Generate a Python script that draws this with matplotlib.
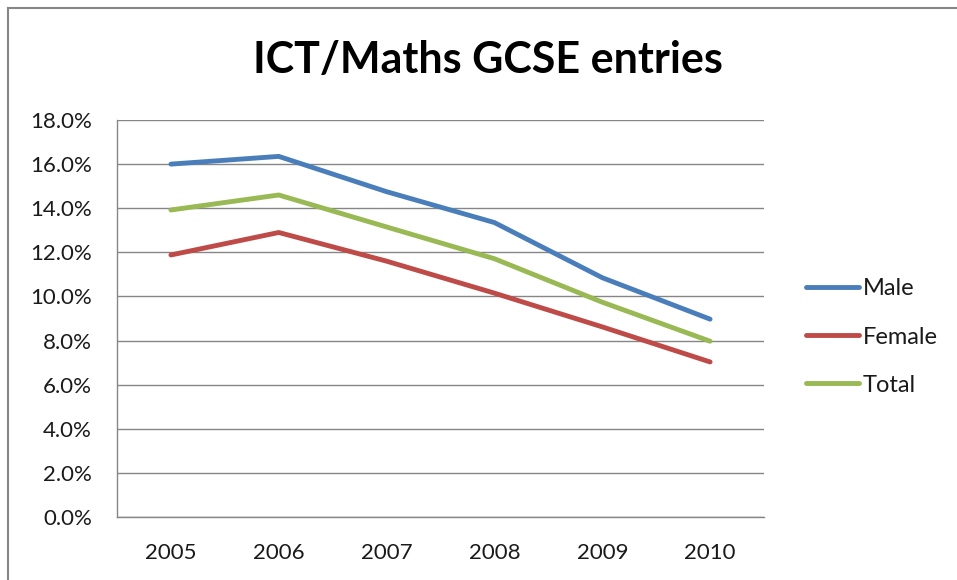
import matplotlib
matplotlib.use("Agg")
import matplotlib.pyplot as plt
from matplotlib.lines import Line2D

years = ["2005", "2006", "2007", "2008", "2009", "2010"]
male = [16.0, 16.35, 14.75, 13.35, 10.85, 8.97]
female = [11.88, 12.9, 11.6, 10.15, 8.62, 7.03]
total = [13.92, 14.6, 13.15, 11.71, 9.74, 7.97]

plt.rcParams['font.family'] = ['Lato', 'DejaVu Sans']

fig = plt.figure(figsize=(9.57, 5.8), dpi=100)
ax = fig.add_axes([117/957, 1 - 517/580, (764-117)/957, (517-120)/580])

x = list(range(len(years)))
ax.plot(x, male, color='#4A7EBB', lw=3.5, label='Male', solid_capstyle='round')
ax.plot(x, female, color='#BE4B48', lw=3.5, label='Female', solid_capstyle='round')
ax.plot(x, total, color='#98B954', lw=3.5, label='Total', solid_capstyle='round')

ax.set_xlim(-0.5, 5.5)
ax.set_ylim(0, 18)
ax.set_yticks(range(0, 19, 2))
ax.set_yticklabels([f"{v:.1f}%" for v in range(0, 19, 2)])
ax.set_xticks(x)
ax.set_xticklabels(years)
ax.tick_params(axis='both', length=0, labelsize=16, colors='#1a1a1a')
ax.tick_params(axis='y', pad=18)
ax.tick_params(axis='x', pad=19)
ax.grid(axis='y', color='#868686', lw=1)
ax.set_axisbelow(True)
for s in ['top', 'right']:
    ax.spines[s].set_visible(False)
for s in ['left', 'bottom']:
    ax.spines[s].set_color('#868686')
    ax.spines[s].set_linewidth(1)

fig.text(488/957, 1 - 60/580, "ICT/Maths GCSE entries", ha='center', va='center',
         fontsize=31, fontweight='bold', color='black')

leg = fig.legend(loc='center left', bbox_to_anchor=(785/957, 1 - 337/580), frameon=False,
                 fontsize=17, handlelength=2.25, handletextpad=0.15, labelspacing=1.15)
for t in leg.get_texts():
    t.set_color('#1a1a1a')

# outer chart border
fig.add_artist(Line2D([8/957, 8/957], [0, 1 - 8/580], transform=fig.transFigure, color='#868686', lw=1.5))
fig.add_artist(Line2D([8/957, 1], [1 - 8/580, 1 - 8/580], transform=fig.transFigure, color='#868686', lw=1.5))

fig.savefig("out.png", dpi=100, facecolor='white')
